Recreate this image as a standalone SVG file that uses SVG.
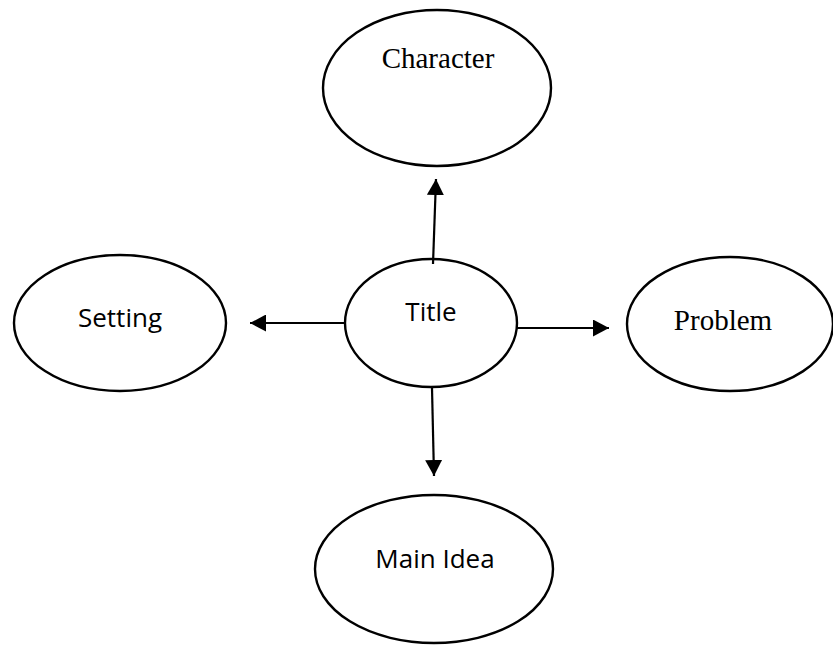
<svg xmlns="http://www.w3.org/2000/svg" width="833" height="645" viewBox="0 0 833 645">
<style>
.node ellipse{fill:#fff;stroke:#000;stroke-width:2.4}
.sans{font-family:"Open Sans","Liberation Sans",sans-serif;font-size:26px;fill:#000;text-anchor:middle}
.serif{font-family:"Liberation Serif","Times New Roman",serif;font-size:29px;fill:#000;text-anchor:middle}
.conn line{stroke:#000;stroke-width:2.2}
</style>
<defs>
<marker id="arr" markerUnits="userSpaceOnUse" markerWidth="17" markerHeight="17" refX="16" refY="8.5" orient="auto">
<path d="M0,0 L16,8.5 L0,17 Z" fill="#000"/>
</marker>
</defs>
<rect width="833" height="645" fill="#fff"/>
<g id="character" class="node">
<ellipse cx="437" cy="88" rx="114" ry="78"/>
<text class="serif" x="438" y="68">Character</text>
</g>
<g id="title" class="node">
<ellipse cx="431" cy="323" rx="86" ry="64"/>
<text class="sans" x="431" y="321">Title</text>
</g>
<g id="setting" class="node">
<ellipse cx="120" cy="323" rx="106" ry="68"/>
<text class="sans" x="120" y="327">Setting</text>
</g>
<g id="problem" class="node">
<ellipse cx="730" cy="324" rx="103" ry="67"/>
<text class="serif" x="723" y="330">Problem</text>
</g>
<g id="mainidea" class="node">
<ellipse cx="434" cy="569" rx="119" ry="74"/>
<text class="sans" x="435" y="568">Main Idea</text>
</g>
<g id="connectors" class="conn">
<line x1="433" y1="264" x2="436" y2="179" marker-end="url(#arr)"/>
<line x1="346" y1="323" x2="250" y2="323" marker-end="url(#arr)"/>
<line x1="517" y1="328" x2="609" y2="328" marker-end="url(#arr)"/>
<line x1="432" y1="388" x2="434" y2="476" marker-end="url(#arr)"/>
</g>
</svg>
